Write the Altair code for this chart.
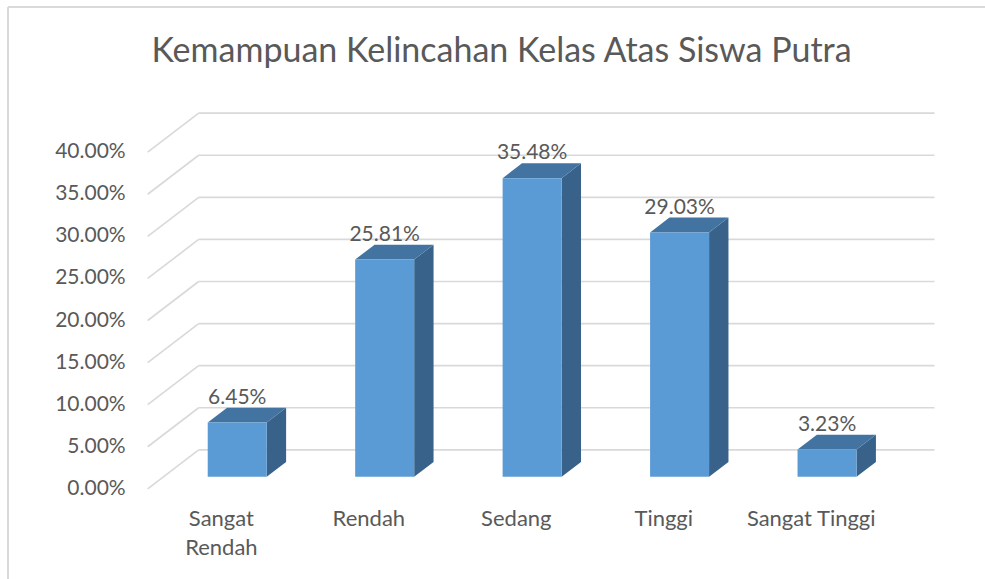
import altair as alt
import pandas as pd

# ---------------- data ----------------
categories = ["Sangat Rendah", "Rendah", "Sedang", "Tinggi", "Sangat Tinggi"]
axis_labels = ["Sangat\nRendah", "Rendah", "Sedang", "Tinggi", "Sangat Tinggi"]
values = [6.45, 25.81, 35.48, 29.03, 3.23]
value_labels = ["6.45%", "25.81%", "35.48%", "29.03%", "3.23%"]
tick_values = [0, 5, 10, 15, 20, 25, 30, 35, 40]
tick_labels = ["0.00%", "5.00%", "10.00%", "15.00%", "20.00%",
               "25.00%", "30.00%", "35.00%", "40.00%"]
title_text = "Kemampuan Kelincahan Kelas Atas Siswa Putra"

# ---------------- layout / style ----------------
TOTAL_W, TOTAL_H = 985, 579
PAD_L, PAD_T = 134, 98
W, H = 811, 404
X_DOM = [-0.7, 4.8]
Y_DOM = [-3, 45]
KX = W / (X_DOM[1] - X_DOM[0])
KY = H / (Y_DOM[1] - Y_DOM[0])

DEPTH_X_PX, DEPTH_Y_PX = 51, 39
FRONT_F, BAR_F = 0.31, 0.38
BAR_W_PX = 59

FONT = "Lato"
TXT = "#595959"
GRID = "#D9D9D9"
C_FRONT = "#5B9BD5"
C_TOP = "#4373A0"
C_SIDE = "#38628A"


def ux(px):
    return px / KX


def uy(px):
    return px / KY


front_dx, front_dy = -ux(DEPTH_X_PX * FRONT_F), -uy(DEPTH_Y_PX * FRONT_F)
bar_dx, bar_dy = ux(DEPTH_X_PX * BAR_F), uy(DEPTH_Y_PX * BAR_F)
back_dx, back_dy = ux(DEPTH_X_PX * (1 - FRONT_F)), uy(DEPTH_Y_PX * (1 - FRONT_F))
HALF = ux(BAR_W_PX / 2)
WALL_X = -0.50
WALL_RIGHT = 4.49

xs = alt.Scale(domain=X_DOM, nice=False, zero=False)
ys = alt.Scale(domain=Y_DOM, nice=False, zero=False)

# ---------------- tables ----------------
grid_rows = []
for t in tick_values:
    grid_rows.append(dict(x=WALL_X + back_dx, x2=WALL_RIGHT + back_dx,
                          y=t + back_dy, y2=t + back_dy))
    grid_rows.append(dict(x=WALL_X + front_dx, x2=WALL_X + back_dx,
                          y=t + front_dy, y2=t + back_dy))
grid_df = pd.DataFrame(grid_rows)

front_df = pd.DataFrame(dict(cat=categories,
                             x=[i - HALF for i in range(len(values))],
                             x2=[i + HALF for i in range(len(values))],
                             y=[0] * len(values), y2=values))

top_rows, side_rows = [], []
for i, (c, v) in enumerate(zip(categories, values)):
    top_rows.append(dict(cat=c, y=v, x=i - HALF, x2=i + HALF))
    top_rows.append(dict(cat=c, y=v + bar_dy, x=i - HALF + bar_dx, x2=i + HALF + bar_dx))
    side_rows.append(dict(cat=c, x=i + HALF, y=0, y2=v))
    side_rows.append(dict(cat=c, x=i + HALF + bar_dx, y=bar_dy, y2=v + bar_dy))
top_df = pd.DataFrame(top_rows)
side_df = pd.DataFrame(side_rows)

vlab_df = pd.DataFrame(dict(x=list(range(len(values))),
                            y=[v + bar_dy for v in values], t=value_labels))
xlab_df = pd.DataFrame(dict(x=[i + front_dx for i in range(len(values))],
                            y=[front_dy] * len(values), t=axis_labels))
ylab_df = pd.DataFrame(dict(x=[WALL_X + front_dx] * len(tick_values),
                            y=[t + front_dy for t in tick_values], t=tick_labels))

# ---------------- layers ----------------
grid = alt.Chart(grid_df).mark_rule(color=GRID, strokeWidth=1.6).encode(
    x=alt.X("x:Q", scale=xs, axis=None), x2="x2:Q",
    y=alt.Y("y:Q", scale=ys, axis=None), y2="y2:Q")

side = alt.Chart(side_df).mark_area(color=C_SIDE, orient="vertical").encode(
    x=alt.X("x:Q", scale=xs, axis=None),
    y=alt.Y("y:Q", scale=ys, axis=None, stack=False), y2="y2:Q",
    detail="cat:N")

top = alt.Chart(top_df).mark_area(color=C_TOP, orient="horizontal").encode(
    y=alt.Y("y:Q", scale=ys, axis=None),
    x=alt.X("x:Q", scale=xs, axis=None, stack=False), x2="x2:Q",
    detail="cat:N")

front = alt.Chart(front_df).mark_rect(color=C_FRONT).encode(
    x=alt.X("x:Q", scale=xs, axis=None), x2="x2:Q",
    y=alt.Y("y:Q", scale=ys, axis=None), y2="y2:Q")

vlab = alt.Chart(vlab_df).mark_text(font=FONT, fontSize=21, color=TXT,
                                    baseline="alphabetic", dy=-4).encode(
    x=alt.X("x:Q", scale=xs, axis=None), y=alt.Y("y:Q", scale=ys, axis=None),
    text="t:N")

xlab = alt.Chart(xlab_df).mark_text(font=FONT, fontSize=22, color=TXT,
                                    baseline="top", dy=20, lineBreak="\n",
                                    lineHeight=29).encode(
    x=alt.X("x:Q", scale=xs, axis=None), y=alt.Y("y:Q", scale=ys, axis=None),
    text="t:N")

ylab = alt.Chart(ylab_df).mark_text(font=FONT, fontSize=21, color=TXT,
                                    align="right", baseline="middle", dx=-22).encode(
    x=alt.X("x:Q", scale=xs, axis=None), y=alt.Y("y:Q", scale=ys, axis=None),
    text="t:N")

title = alt.Chart(pd.DataFrame(dict(t=[title_text]))).mark_text(
    font=FONT, fontSize=34, color=TXT, baseline="middle", align="center").encode(
    x=alt.value(501.5 - PAD_L), y=alt.value(52 - PAD_T), text="t:N")

border_left = alt.Chart(pd.DataFrame(dict(a=[0]))).mark_rule(
    color=GRID, strokeWidth=2).encode(
    x=alt.value(8 - PAD_L), y=alt.value(7 - PAD_T), y2=alt.value(TOTAL_H))
border_top = alt.Chart(pd.DataFrame(dict(a=[0]))).mark_rule(
    color=GRID, strokeWidth=2).encode(
    x=alt.value(8 - PAD_L), x2=alt.value(TOTAL_W), y=alt.value(7 - PAD_T))

chart = alt.layer(border_left, border_top, grid, side, top, front,
                  vlab, xlab, ylab, title).properties(
    width=W, height=H,
    autosize=alt.AutoSizeParams(type="none"),
    padding={"left": PAD_L, "top": PAD_T,
             "right": TOTAL_W - PAD_L - W, "bottom": TOTAL_H - PAD_T - H},
    background="white",
).configure_view(strokeWidth=0)

chart.save("out.html", embed_options={"renderer": "svg", "actions": False})
